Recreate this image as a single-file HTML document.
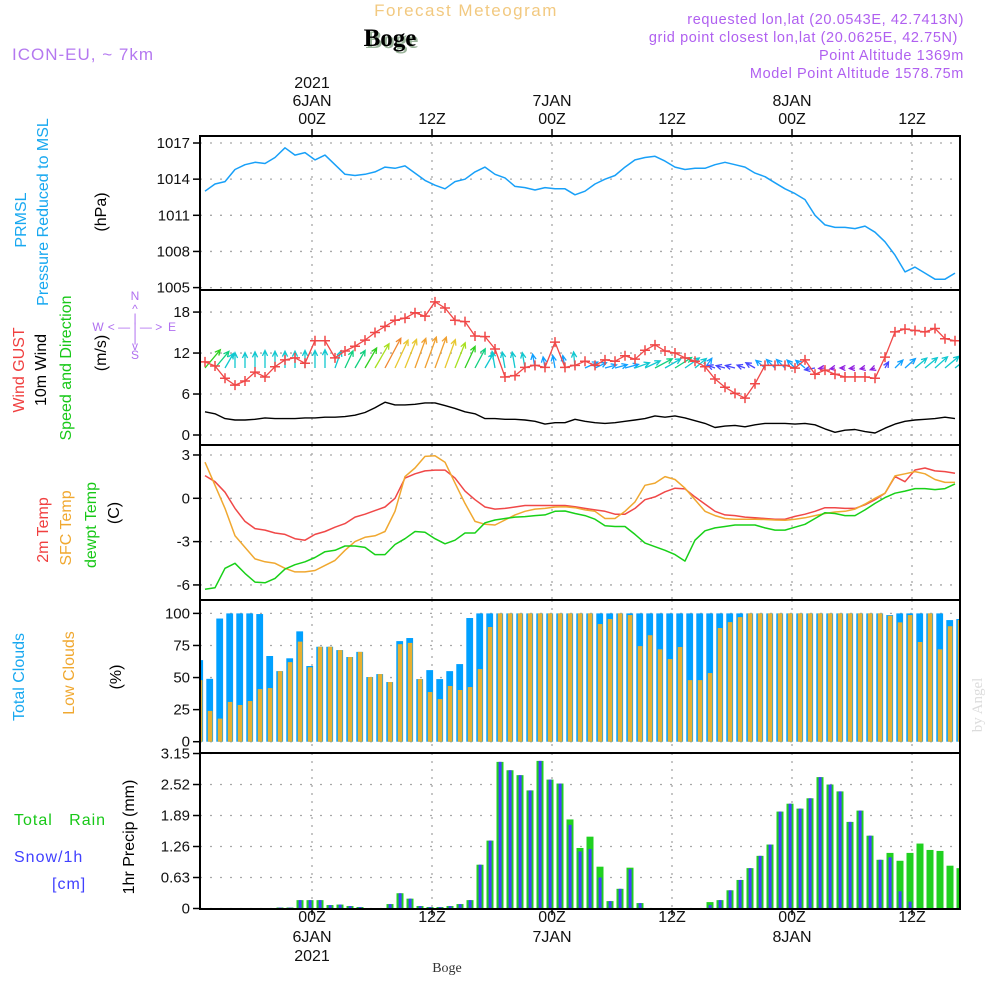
<!DOCTYPE html>
<html><head><meta charset="utf-8"><title>Forecast Meteogram - Boge</title>
<style>
html,body{margin:0;padding:0;background:#fff;}
svg{display:block;font-family:"Liberation Sans",sans-serif;}
</style></head>
<body>
<svg id="chart" width="1000" height="1000" viewBox="0 0 1000 1000" xmlns="http://www.w3.org/2000/svg">
<defs>
<clipPath id="plotclip"><rect x="201" y="130" width="758" height="790"/></clipPath>
</defs>
<g>
<text x="466" y="16" text-anchor="middle" font-size="17" fill="#f2c980" letter-spacing="1.5">Forecast Meteogram</text>
<text x="392" y="48" text-anchor="middle" font-size="25" font-weight="bold" font-family="Liberation Serif,serif" fill="#9ab39a">Boge</text>
<text x="390" y="46" text-anchor="middle" font-size="25" font-weight="bold" font-family="Liberation Serif,serif" fill="#000">Boge</text>
<text x="12" y="60" font-size="17" fill="#b478f0" letter-spacing="1">ICON-EU, ~ 7km</text>
<g font-size="14.5" fill="#b060f0" text-anchor="end" letter-spacing="0.6">
<text x="964" y="24">requested lon,lat (20.0543E, 42.7413N)</text>
<text x="958" y="42">grid point closest lon,lat (20.0625E, 42.75N)</text>
<text x="964" y="60">Point Altitude 1369m</text>
<text x="964" y="78">Model Point Altitude 1578.75m</text>
</g>
</g>
<g id="axislabels" font-size="16">
<g transform="translate(26,220) rotate(-90)"><text text-anchor="middle" fill="#18a8f0">PRMSL</text></g>
<g transform="translate(48,212) rotate(-90)"><text text-anchor="middle" fill="#18a8f0">Pressure Reduced to MSL</text></g>
<g transform="translate(106,212) rotate(-90)"><text text-anchor="middle" fill="#000">(hPa)</text></g>
<g transform="translate(24,370) rotate(-90)"><text text-anchor="middle" fill="#f04040">Wind GUST</text></g>
<g transform="translate(46,370) rotate(-90)"><text text-anchor="middle" fill="#000">10m Wind</text></g>
<g transform="translate(71,368) rotate(-90)"><text text-anchor="middle" fill="#18c818">Speed and Direction</text></g>
<g transform="translate(106,353) rotate(-90)"><text text-anchor="middle" fill="#000">(m/s)</text></g>
<g fill="#b070f0" font-size="12" text-anchor="middle">
<text x="135" y="300">N</text><text x="135" y="313">^</text><text x="135" y="322">|</text>
<text x="98" y="331">W</text><text x="135" y="331">&lt; — | — &gt;</text><text x="172" y="331">E</text>
<text x="135" y="342">|</text><text x="135" y="350">v</text><text x="135" y="359">S</text>
</g>
<g transform="translate(48,530) rotate(-90)"><text text-anchor="middle" fill="#f04040">2m Temp</text></g>
<g transform="translate(71,528) rotate(-90)"><text text-anchor="middle" fill="#f0a830">SFC Temp</text></g>
<g transform="translate(96,525) rotate(-90)"><text text-anchor="middle" fill="#18c818">dewpt Temp</text></g>
<g transform="translate(119,513) rotate(-90)"><text text-anchor="middle" fill="#000">(C)</text></g>
<g transform="translate(24,677) rotate(-90)"><text text-anchor="middle" fill="#18a8f0">Total Clouds</text></g>
<g transform="translate(74,673) rotate(-90)"><text text-anchor="middle" fill="#f0a830">Low Clouds</text></g>
<g transform="translate(121,677) rotate(-90)"><text text-anchor="middle" fill="#000">(%)</text></g>
<text x="14" y="825" fill="#18c818" letter-spacing="1">Total&#160;&#160;&#160;Rain</text>
<text x="14" y="862" fill="#4040ff" letter-spacing="1">Snow/1h</text>
<text x="52" y="889" fill="#4040ff" letter-spacing="1">[cm]</text>
<g transform="translate(134,837) rotate(-90)"><text text-anchor="middle" fill="#000">1hr Precip (mm)</text></g>
<g transform="translate(982,705) rotate(-90)"><text text-anchor="middle" fill="#dcdcdc" font-family="Liberation Serif,serif" font-size="15">by Angel</text></g>
<text x="447" y="972" text-anchor="middle" font-family="Liberation Serif,serif" font-size="14" fill="#333">Boge</text>
</g>
<g id="plot"></g>
</svg>
<script>
// ---- data (hourly series, 76 points) ----
const pressure = [1013.0,1013.6,1013.8,1014.8,1015.2,1015.4,1015.3,1015.8,1016.6,1016.0,1016.2,1015.6,1016.0,1015.2,1014.4,1014.3,1014.4,1014.6,1015.0,1014.9,1015.1,1014.5,1013.9,1013.5,1013.2,1013.8,1014.0,1014.6,1015.0,1014.4,1014.1,1013.4,1013.3,1013.1,1013.3,1013.2,1013.2,1012.7,1013.0,1013.6,1014.0,1014.3,1015.0,1015.6,1015.8,1015.9,1015.5,1015.0,1014.8,1014.9,1014.9,1015.2,1015.4,1015.2,1015.0,1014.5,1014.2,1013.7,1013.2,1012.8,1012.3,1011.0,1010.2,1010.0,1010.0,1009.9,1010.1,1009.6,1008.8,1007.7,1006.3,1006.7,1006.2,1005.7,1005.7,1006.2];
const windGust = [10.7,10.1,8.3,7.3,7.9,9.2,8.5,10,11,11.3,10.5,13.8,13.8,11.3,12.3,13,13.9,15,15.9,16.8,17.1,17.9,17.4,19.5,18.6,16.8,16.6,14.5,14.4,12.6,8.5,8.7,9.9,10.2,9.9,13.6,9.9,10.2,10.8,10.2,11,10.8,11.6,11.1,12.4,13.2,12.3,12,11.3,10.8,10,8.2,7.0,6.1,5.4,7.5,10.2,10.2,10.2,9.8,11,8.9,9.5,8.9,8.5,8.5,8.5,8.3,11.4,15.1,15.5,15.3,15.1,15.6,14.1,13.8];
const windSpeed = [3.4,3.1,2.4,2.2,2.2,2.3,2.5,2.4,2.4,2.4,2.5,2.5,2.6,2.6,2.7,2.9,3.3,4.0,4.8,4.4,4.4,4.5,4.7,4.7,4.3,3.9,3.4,3.1,2.4,2.4,2.3,2.3,2.2,2.0,1.6,1.8,1.8,2.3,2.0,1.8,1.7,1.8,2.0,2.2,2.4,2.8,2.6,2.8,2.5,2.1,1.7,1.1,1.3,1.4,1.2,1.5,1.7,1.7,1.7,1.6,1.7,1.5,0.9,0.4,0.7,0.8,0.5,0.3,1.0,1.6,2.0,2.2,2.3,2.4,2.6,2.4];
const windDir = [50,50,60,90,90,90,90,90,90,90,90,90,90,70,65,60,60,60,62,65,68,70,70,70,70,68,65,62,60,100,100,100,100,100,100,100,100,95,25,25,15,15,15,20,25,28,30,32,35,40,55,160,165,165,160,150,140,135,135,135,140,190,185,190,180,185,190,200,60,45,42,40,40,42,40,38];
const temp2m = [1.57,1.15,0.42,-0.7,-1.6,-2.1,-2.2,-2.4,-2.5,-2.8,-2.9,-2.5,-2.3,-2.0,-1.75,-1.3,-1.1,-0.85,-0.6,0,1.4,1.7,1.9,1.95,1.95,1.4,0.5,-0.1,-0.6,-0.75,-0.7,-0.6,-0.5,-0.5,-0.5,-0.5,-0.5,-0.58,-0.7,-0.8,-0.9,-1.1,-1.1,-0.7,-0.1,0.1,0.45,0.7,0.65,0.1,-0.4,-0.9,-1.15,-1.2,-1.3,-1.35,-1.4,-1.45,-1.45,-1.25,-1.1,-0.9,-0.65,-0.65,-0.7,-0.7,-0.45,-0.1,0.35,1.5,1.15,1.96,2.1,1.9,1.85,1.73];
const tempSfc = [2.5,0.9,-0.7,-2.6,-3.4,-4.2,-4.4,-4.5,-4.85,-5.1,-5.1,-5.0,-4.65,-4.3,-3.6,-3.0,-2.7,-2.6,-2.3,-0.9,1.5,2.1,2.9,2.95,2.5,1.05,-0.35,-1.6,-1.8,-1.85,-1.5,-1.15,-0.9,-0.75,-0.7,-0.6,-0.58,-0.65,-0.8,-0.9,-1.4,-1.4,-0.9,-0.25,0.9,1.05,1.5,1.3,0.7,-0.1,-0.9,-1.2,-1.4,-1.45,-1.45,-1.45,-1.47,-1.5,-1.52,-1.45,-1.35,-1.2,-1.05,-0.95,-0.9,-0.75,-0.4,0,0.35,1.55,1.7,1.85,1.7,1.3,1.1,1.1];
const tempDew = [-6.3,-6.2,-4.85,-4.5,-5.2,-5.8,-5.85,-5.55,-4.9,-4.6,-4.4,-4.1,-3.7,-3.6,-3.3,-3.3,-3.4,-3.9,-3.9,-3.2,-2.8,-2.3,-2.35,-2.8,-3.15,-2.9,-2.4,-2.4,-1.7,-1.5,-1.4,-1.3,-1.27,-1.2,-1.15,-0.9,-0.88,-1.05,-1.2,-1.45,-1.9,-1.95,-1.95,-2.5,-3.1,-3.35,-3.6,-3.9,-4.35,-2.9,-2.25,-2.05,-1.95,-1.85,-1.85,-1.85,-2.05,-2.2,-2.2,-2.0,-1.8,-1.4,-1.0,-1.05,-1.2,-1.2,-0.8,-0.35,0.05,0.35,0.5,0.67,0.67,0.6,0.67,1.0];
// ---- data (hourly bars, 77 bars) ----
const totalClouds = [63.6,49,96,100,100,100,99.5,66.8,55,65,86,59,74,74,71.4,66,70,50.4,52.7,46.5,78.4,80.8,48.8,55.8,48.8,55,60.5,96.4,100,100,100,100,100,100,100,100,100,100,100,100,100,100,100,100,100,100,100,100,100,100,100,100,100,100,100,100,100,100,100,100,100,100,100,100,100,100,100,100,100,98.7,100,100,100,100,100,94.8,95.6];
const lowClouds = [48,24,18,31,28.6,31.7,41,41.8,55,62,78,58,74,74,71.4,66,70,50.4,52.7,46.5,76,77,48.8,38.7,33.2,43.4,40.3,42.6,56.6,89.4,100,100,100,100,100,100,100,100,100,100,91.7,95.6,100,98.7,74.5,83,72,64.4,73.8,48,48,53.5,88.6,93.2,97.1,100,100,100,100,100,100,100,100,100,100,100,100,100,100,98.2,93,98.7,77.7,100,72,90,94.8];
const rain = [0,0,0,0,0,0,0,0,0.02,0.02,0.17,0.17,0.17,0.07,0.08,0.05,0.03,0,0,0.09,0.31,0.2,0.05,0.03,0.03,0.05,0.09,0.17,0.89,1.38,2.98,2.81,2.71,2.4,3.0,2.62,2.54,1.81,1.23,1.46,0.85,0.15,0.4,0.83,0.11,0.01,0.005,0,0,0,0,0.13,0.17,0.37,0.58,0.82,1.07,1.3,1.97,2.13,2.03,2.24,2.67,2.52,2.38,1.76,1.99,1.48,0.99,1.13,0.97,1.13,1.32,1.19,1.17,0.87,0.82];
const snow = [0,0,0,0,0,0,0,0,0.02,0.02,0.17,0.17,0.17,0.07,0.08,0.05,0.03,0,0,0.09,0.31,0.2,0.05,0.03,0.03,0.05,0.09,0.17,0.89,1.38,2.98,2.81,2.71,2.4,3.0,2.62,2.54,1.7,1.16,1.21,0.63,0.15,0.4,0.8,0.11,0.01,0.005,0,0,0,0,0.07,0.17,0.37,0.58,0.82,1.07,1.3,1.97,2.13,2.03,2.24,2.67,2.52,2.38,1.76,1.99,1.48,0.99,1.04,0.35,0.14,0.01,0,0,0,0];
// ---- tick labels ----
const pressTicks = [1017,1014,1011,1008,1005];
const windTicks = [18,12,6,0];
const tempTicks = [3,0,-3,-6];
const cloudTicks = [100,75,50,25,0];
const precipTicks = [3.15,2.52,1.89,1.26,0.63,0];
const timeTicks = [0,12,24,36,48,60];
const topLabels = [["2021","6JAN","00Z"],["","","12Z"],["","7JAN","00Z"],["","","12Z"],["","8JAN","00Z"],["","","12Z"]];
const bottomLabels = [["00Z","6JAN","2021"],["12Z","",""],["00Z","7JAN",""],["12Z","",""],["00Z","8JAN",""],["12Z","",""]];

// ---- axis functions ----
const X0 = 200, X1 = 960;
const xHour = h => 312 + 10 * h;
const xLine = i => xHour(i - 10.7);
const xBar = k => xHour(k - 11.2);
const yP = p => 143 + (1017 - p) * 12.05;
const yW = v => 435 - v * 6.83;
const yT = t => 498.3 - t * 14.44;
const yC = c => 741.7 - c * 1.283;
const yR = v => 908.5 - v * 49.2;
const panels = [[136,290],[290,445],[445,600],[600,753],[753,909]];

const NS = "http://www.w3.org/2000/svg";
const plot = document.getElementById("plot");
function mk(tag, attrs, parent) {
  const e = document.createElementNS(NS, tag);
  for (const k in attrs) e.setAttribute(k, attrs[k]);
  (parent || plot).appendChild(e);
  return e;
}
function grp(name, parent) {
  const g = mk("g", {}, parent);
  
  
  return g;
}
const dash = "2,8";

// grids
const gridG = grp("grid-lines");
function hgrid(y) { mk("line", {x1:X0, x2:X1, y1:y, y2:y, stroke:"#a8a8a8", "stroke-width":1.3, "stroke-dasharray":dash}, gridG); }
pressTicks.forEach(v => hgrid(yP(v)));
windTicks.forEach(v => hgrid(yW(v)));
tempTicks.forEach(v => hgrid(yT(v)));
cloudTicks.forEach(v => hgrid(yC(v)));
precipTicks.forEach(v => hgrid(yR(v)));
panels.forEach(p => timeTicks.forEach(h => {
  mk("line", {x1:xHour(h), x2:xHour(h), y1:p[0], y2:p[1], stroke:"#a8a8a8", "stroke-width":1.3, "stroke-dasharray":"2,6"}, gridG);
}));

// y tick labels
function yLabels(ticks, fy, name, fmt, panel) {
  const g = grp(name);
  ticks.forEach(v => {
    const t = mk("text", {x:190, y:fy(v)+5, "text-anchor":"end", "font-size":15, fill:"#111"}, g);
    t.textContent = fmt ? fmt(v) : String(v);
    mk("line", {x1:193, x2:200, y1:fy(v), y2:fy(v), stroke:"#000", "stroke-width":1.5}, g);
  });
}
yLabels(pressTicks, yP, "pressure-y-ticks");
yLabels(windTicks, yW, "wind-y-ticks");
yLabels(tempTicks, yT, "temp-y-ticks");
yLabels(cloudTicks, yC, "cloud-y-ticks");
yLabels(precipTicks, yR, "precip-y-ticks", v => v === 0 ? "0" : v.toFixed(2));

// time labels
const tG = grp("time-axis-labels");
timeTicks.forEach((h, j) => {
  const x = xHour(h);
  [88,106,124].forEach((yy, r) => {
    if (!topLabels[j][r]) return;
    const t = mk("text", {x:x, y:yy, "text-anchor":"middle", "font-size":16, fill:"#111"}, tG);
    t.textContent = topLabels[j][r];
  });
  [922,942,961].forEach((yy, r) => {
    if (!bottomLabels[j][r]) return;
    const t = mk("text", {x:x, y:yy, "text-anchor":"middle", "font-size":16, fill:"#111"}, tG);
    t.textContent = bottomLabels[j][r];
  });
  mk("line", {x1:x, x2:x, y1:129, y2:136, stroke:"#000", "stroke-width":1.5}, tG);
  mk("line", {x1:x, x2:x, y1:909, y2:915, stroke:"#000", "stroke-width":1.5}, tG);
});

const clipG = mk("g", {"clip-path":"url(#plotclip)"});



function linePath(arr, fy, color, name, w) {
  const d = arr.map((v, i) => (i ? "L" : "M") + xLine(i).toFixed(1) + "," + fy(v).toFixed(1)).join("");
  const p = mk("path", {d:d, fill:"none", stroke:color, "stroke-width":w || 1.4, "stroke-linejoin":"round"}, clipG);
  
  
}

// clouds
const cloudG = grp("cloud-bars", clipG);
totalClouds.forEach((v, k) => {
  const c = xBar(k);
  const b = mk("rect", {x:c-3.7, y:yC(v), width:6.8, height:yC(0)-yC(v), fill:"#00a0ff"}, cloudG);
  
  
  const lv = lowClouds[k];
  const o = mk("rect", {x:c-2.2, y:yC(lv), width:4.6, height:yC(0)-yC(lv), fill:"#e8b030"}, cloudG);
  
  
});

// precip
const precG = grp("precip-bars", clipG);
rain.forEach((v, k) => {
  const c = xBar(k);
  if (v > 0) {
    const b = mk("rect", {x:c-3.5, y:yR(v), width:7, height:yR(0)-yR(v), fill:"#20d020"}, precG);
    
    
  }
  const s = snow[k];
  if (s > 0) {
    const o = mk("rect", {x:c-1.4, y:yR(s), width:3, height:yR(0)-yR(s), fill:"#4040ff"}, precG);
    
    
  }
});

// lines
linePath(pressure, yP, "#18a0f8", "pressure-line", 1.5);
linePath(windSpeed, yW, "#000", "wind-speed-line", 1.4);
linePath(temp2m, yT, "#f04848", "temp-2m-line", 1.5);
linePath(tempSfc, yT, "#f0a830", "temp-sfc-line", 1.5);
linePath(tempDew, yT, "#18d018", "dewpoint-line", 1.5);

// wind arrows
function windColor(s) {
  if (s < 1) return "#9020e0";
  if (s < 1.6) return "#4848ff";
  if (s < 2.1) return "#10a0ff";
  if (s < 2.7) return "#10c8d0";
  if (s < 3.2) return "#10d080";
  if (s < 3.7) return "#30d020";
  if (s < 4.1) return "#a8e020";
  if (s < 4.45) return "#e8c830";
  if (s < 4.75) return "#f0a030";
  return "#f08830";
}
const arrG = grp("wind-arrows", clipG);
windSpeed.forEach((s, i) => {
  const x0 = xLine(i), y0 = 368;
  const L = Math.max(s * 7, 5);
  const a = windDir[i] * Math.PI / 180;
  const x1 = x0 + L * Math.cos(a), y1 = y0 - L * Math.sin(a);
  const h = 6, sp = 0.45;
  const l1x = x1 - h * Math.cos(a - sp), l1y = y1 + h * Math.sin(a - sp);
  const l2x = x1 - h * Math.cos(a + sp), l2y = y1 + h * Math.sin(a + sp);
  const p = mk("path", {d:`M${x0.toFixed(1)},${y0}L${x1.toFixed(1)},${y1.toFixed(1)}M${l1x.toFixed(1)},${l1y.toFixed(1)}L${x1.toFixed(1)},${y1.toFixed(1)}L${l2x.toFixed(1)},${l2y.toFixed(1)}`, fill:"none", stroke:windColor(s), "stroke-width":1.3}, arrG);
  
  
});

// gust
linePath(windGust, yW, "#f04848", "wind-gust-line", 1.3);
const gG = grp("wind-gust-markers", clipG);
windGust.forEach((v, i) => {
  const x = xLine(i), y = yW(v);
  const m = mk("path", {d:`M${x-5},${y}H${x+5}M${x},${y-5}V${y+5}`, stroke:"#f04848", "stroke-width":1.5}, gG);
  
  
});

// panel frames
const fG = grp("panel-frames");
panels.forEach(p => {
  mk("rect", {x:X0, y:p[0], width:X1-X0, height:p[1]-p[0], fill:"none", stroke:"#000", "stroke-width":2}, fG);
});
</script>
</body></html>
